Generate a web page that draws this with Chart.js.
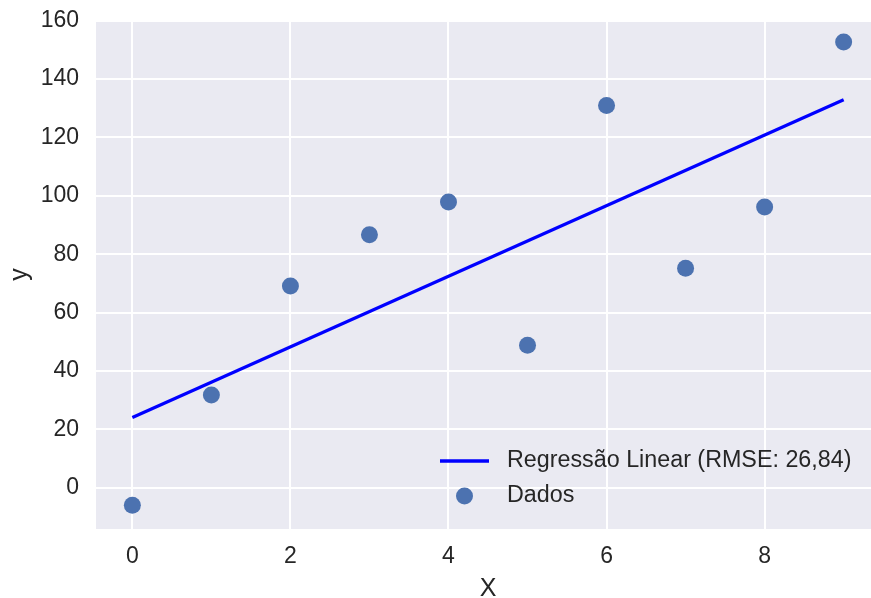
<!DOCTYPE html>
<html>
<head>
<meta charset="utf-8">
<script src="https://cdn.jsdelivr.net/npm/chart.js@4.4.0/dist/chart.umd.min.js"></script>
<style>
  html, body { margin: 0; padding: 0; background: #ffffff; overflow: hidden; }
  canvas { display: block; }
</style>
</head>
<body>
<canvas id="grafica" width="880" height="598"></canvas>
<script>
// datos
const xDados = [0, 1, 2, 3, 4, 5, 6, 7, 8, 9];
const yDados = [-6.0, 31.8, 69.1, 86.7, 97.9, 48.8, 130.9, 75.2, 96.2, 152.7];
const xRegressao = [0, 9];
const yRegressao = [24.1, 132.9];
const ticksX = [0, 2, 4, 6, 8];
const ticksY = [0, 20, 40, 60, 80, 100, 120, 140, 160];

const rotuloRegressao = "Regressão Linear (RMSE: 26,84)";
const rotuloDados = "Dados";

const corTexto = "#262626";
const fonte = "'Liberation Sans', Arial, sans-serif";

// fondo gris del area de la grafica
const fundoPlugin = {
  id: "fundo",
  beforeDraw(chart) {
    const {ctx, chartArea} = chart;
    ctx.save();
    ctx.fillStyle = "#EAEAF2";
    ctx.fillRect(chartArea.left, chartArea.top, chartArea.right - chartArea.left, chartArea.bottom - chartArea.top);
    ctx.restore();
  }
};

// leyenda dentro del area, abajo a la derecha
const legendaPlugin = {
  id: "legenda",
  afterDraw(chart) {
    const {ctx, chartArea} = chart;
    const linha = chart.data.datasets[0];
    const pontos = chart.data.datasets[1];
    const xTexto = chartArea.right - 373;
    const xHandle = xTexto - 67;
    const y1 = chartArea.bottom - 68;
    const y2 = chartArea.bottom - 33;
    ctx.save();
    ctx.strokeStyle = linha.borderColor;
    ctx.lineWidth = 3.3;
    ctx.beginPath();
    ctx.moveTo(xHandle, y1);
    ctx.lineTo(xHandle + 49, y1);
    ctx.stroke();
    ctx.fillStyle = pontos.backgroundColor;
    ctx.beginPath();
    ctx.arc(xHandle + 24.5, y2, 8.5, 0, Math.PI * 2);
    ctx.fill();
    ctx.fillStyle = corTexto;
    ctx.font = "23.3px " + fonte;
    ctx.textBaseline = "middle";
    ctx.textAlign = "left";
    ctx.fillText(linha.label, xTexto, y1);
    ctx.fillText(pontos.label, xTexto, y2);
    ctx.restore();
  }
};

new Chart(document.getElementById("grafica"), {
  type: "scatter",
  data: {
    datasets: [
      {
        type: "line",
        label: rotuloRegressao,
        data: xRegressao.map((x, i) => ({x: x, y: yRegressao[i]})),
        borderColor: "#0000FF",
        borderWidth: 3.2,
        pointRadius: 0,
        fill: false,
        tension: 0,
        order: 2
      },
      {
        label: rotuloDados,
        data: xDados.map((x, i) => ({x: x, y: yDados[i]})),
        backgroundColor: "#4C72B0",
        borderColor: "#4C72B0",
        borderWidth: 0,
        pointRadius: 8.5,
        order: 1
      }
    ]
  },
  options: {
    responsive: false,
    animation: false,
    layout: { autoPadding: false, padding: { top: 20, right: 0, bottom: 0, left: 0 } },
    plugins: {
      legend: { display: false },
      tooltip: { enabled: false }
    },
    scales: {
      x: {
        type: "linear",
        min: -0.46,
        max: 9.46,
        afterBuildTicks: (scale) => { scale.ticks = ticksX.map(v => ({value: v})); },
        afterFit: (scale) => {
          scale.height = 69;
          scale.paddingLeft = 0;
          scale.paddingRight = 0;
        },
        grid: { color: "#ffffff", lineWidth: 2, drawTicks: false },
        border: { display: false },
        ticks: {
          color: corTexto,
          font: { family: fonte, size: 23 },
          padding: 14,
          maxRotation: 0
        },
        title: {
          display: true,
          text: "X",
          color: corTexto,
          font: { family: fonte, size: 25, lineHeight: 0.68 },
          padding: { top: 0, bottom: 0 }
        }
      },
      y: {
        type: "linear",
        min: -14.1,
        max: 160.2,
        afterBuildTicks: (scale) => { scale.ticks = ticksY.map(v => ({value: v})); },
        afterFit: (scale) => {
          scale.width = 96;
          scale.paddingTop = 0;
          scale.paddingBottom = 0;
        },
        grid: { color: "#ffffff", lineWidth: 2, drawTicks: false },
        border: { display: false },
        ticks: {
          color: corTexto,
          font: { family: fonte, size: 23 },
          padding: 17
        },
        title: {
          display: true,
          text: "y",
          color: corTexto,
          font: { family: fonte, size: 25, lineHeight: 1 },
          padding: { top: 8, bottom: 0 }
        }
      }
    }
  },
  plugins: [fundoPlugin, legendaPlugin]
});
</script>
</body>
</html>
